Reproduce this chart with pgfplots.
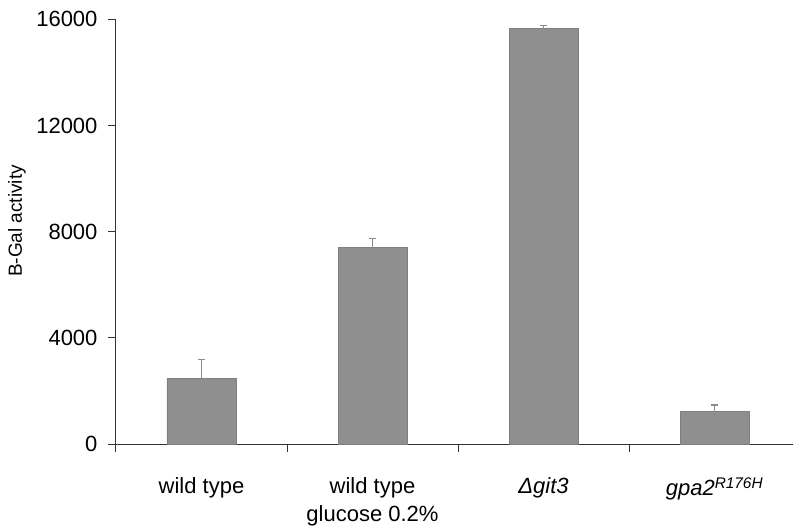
\documentclass[border=0pt]{standalone}
\usepackage{pgfplots}
\pgfplotsset{compat=1.18}
\usepackage{fontspec}
\setmainfont{Liberation Sans}

\definecolor{barfill}{HTML}{8F8F8F}
\definecolor{baredge}{HTML}{7E7E7E}
\definecolor{errgray}{HTML}{8A8A8A}

\pgfplotstableread{
x  y      err
0  2460   730
1  7390   360
2  15640  140
3  1216   250
}\galdata

\begin{document}
\begin{tikzpicture}
\path[use as bounding box] (-116pt,-84pt) rectangle (677pt,444pt);
\begin{axis}[
    scale only axis,
    width=677pt, height=424.7pt,
    xmin=-0.5, xmax=3.459,
    ymin=0, ymax=16000,
    axis lines=left,
    axis line style={-, black!80, line width=1pt},
    x axis line style={shorten <=-7pt},
    ytick={0,4000,8000,12000,16000},
    scaled y ticks=false,
    xtick={0,1,2,3},
    xticklabels={wild type, {wild type\\glucose 0.2\%}, \textit{Δgit3}, \textit{gpa2}\textsuperscript{\textit{R176H}}},
    minor xtick={-0.5,0.5,1.5,2.5},
    major x tick style={draw=none},
    tick align=outside,
    major tick length=8pt,
    minor tick length=8pt,
    every tick/.style={black!80, line width=1pt},
    /pgf/number format/1000 sep={},
    /pgf/number format/assume math mode=true,
    tick label style={font=\fontsize{22}{28}\selectfont, black},
    xticklabel style={align=center, anchor=north, yshift=-22pt},
    yticklabel style={xshift=-7pt},
    ylabel={B-Gal activity},
    ylabel style={font=\fontsize{19}{22}\selectfont, at={(axis description cs:0,0.525)}, anchor=center, yshift=99pt},
    clip=false,
]
\addplot[ybar, bar width=69pt, fill=barfill, draw=baredge, line width=0.8pt,
    error bars/.cd, y dir=plus, y explicit,
    error bar style={errgray, line width=1.2pt},
    error mark options={errgray, rotate=90, mark size=3.5pt, line width=1.2pt}]
    table[x=x, y=y, y error=err] {\galdata};
\end{axis}
\end{tikzpicture}
\end{document}
